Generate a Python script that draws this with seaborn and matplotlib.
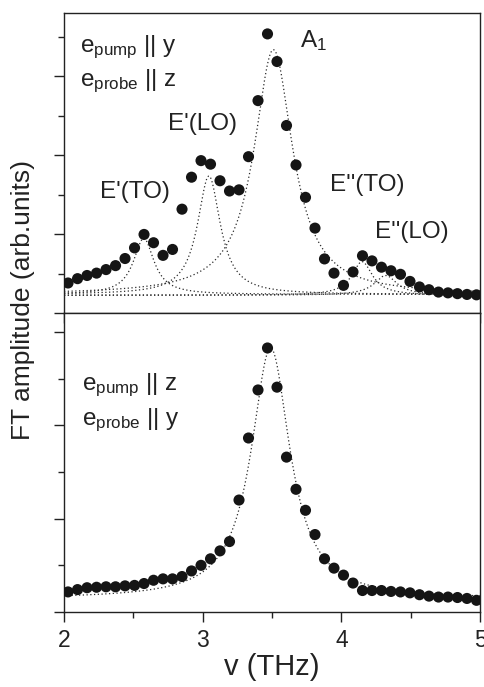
import numpy as np
import pandas as pd
import matplotlib
matplotlib.use("Agg")
import matplotlib.pyplot as plt
import seaborn as sns
from matplotlib.ticker import MultipleLocator, NullFormatter

# frequency grid (THz), same for both panels
freq_start = 2.029
freq_step = 0.0685
n_pts = 44
freq = [round(freq_start + freq_step * i, 4) for i in range(n_pts)]

# top panel: e_pump || y, e_probe || z
amp_top = [0.76, 0.87, 0.95, 1.01, 1.10, 1.20, 1.38, 1.65, 1.99, 1.78,
           1.46, 1.61, 2.63, 3.44, 3.86, 3.77, 3.35, 3.09, 3.12, 3.96,
           5.38, 7.07, 6.37, 4.75, 3.75, 2.93, 2.15, 1.37, 1.01, 0.70,
           1.04, 1.45, 1.32, 1.16, 1.07, 0.98, 0.80, 0.66, 0.59, 0.53,
           0.51, 0.49, 0.47, 0.46]

# bottom panel: e_pump || z, e_probe || y
amp_bot = [0.43, 0.48, 0.52, 0.53, 0.54, 0.54, 0.56, 0.57, 0.61, 0.68,
           0.71, 0.71, 0.76, 0.88, 1.00, 1.14, 1.31, 1.51, 2.40, 3.73,
           4.76, 5.66, 4.82, 3.32, 2.63, 2.18, 1.66, 1.14, 0.94, 0.79,
           0.62, 0.46, 0.46, 0.46, 0.44, 0.43, 0.41, 0.37, 0.34, 0.32,
           0.32, 0.31, 0.29, 0.25]

# lorentzian fit components
modes = ["E'(TO)", "E'(LO)", "A1", "E''(TO)", "E''(LO)"]
fit_center = [2.575, 3.045, 3.51, 4.15, 4.32]
fit_width = [0.09, 0.10, 0.17, 0.09, 0.10]
fit_height = [1.42, 3.00, 6.20, 0.85, 0.50]
fit_base = [0.47, 0.47, 0.47, 0.45, 0.45]

bot_center = [3.49]
bot_width = [0.17]
bot_height = [5.38]
bot_base = [0.28]


def lorentz(x, x0, w, a, y0):
    return y0 + a / (1 + ((x - x0) / w) ** 2)


sns.set_style("ticks")
plt.rcParams['font.family'] = ['Liberation Sans', 'DejaVu Sans']
plt.rcParams['mathtext.fontset'] = 'custom'
plt.rcParams['mathtext.rm'] = 'Liberation Sans'
plt.rcParams['mathtext.it'] = 'Liberation Sans'

fig = plt.figure(figsize=(4.85, 6.87), dpi=100)
ax1 = fig.add_axes([0.132, 0.5444, 0.8577, 0.4367])
ax2 = fig.add_axes([0.132, 0.1092, 0.8577, 0.4352])

xs = np.linspace(2, 5, 600)
dot_color = "#151515"
fit_style = dict(color="#2a2a2a", lw=0.9, linestyle=(0, (1, 2)))

df_top = pd.DataFrame({"freq": freq, "amp": amp_top})
df_bot = pd.DataFrame({"freq": freq, "amp": amp_bot})

for i in range(len(modes)):
    ax1.plot(xs, lorentz(xs, fit_center[i], fit_width[i], fit_height[i], fit_base[i]), **fit_style)
sns.scatterplot(data=df_top, x="freq", y="amp", ax=ax1, s=64, color=dot_color,
                edgecolor="none", zorder=3)

ax2.plot(xs, lorentz(xs, bot_center[0], bot_width[0], bot_height[0], bot_base[0]), **fit_style)
sns.scatterplot(data=df_bot, x="freq", y="amp", ax=ax2, s=64, color=dot_color,
                edgecolor="none", zorder=3)

for ax, ytop, yminor in [(ax1, 7.6, [1, 3, 5, 7]), (ax2, 6.41, [1, 3, 5])]:
    ax.set_xlim(2, 5)
    ax.set_ylim(0, ytop)
    ax.xaxis.set_major_locator(MultipleLocator(1))
    ax.xaxis.set_minor_locator(MultipleLocator(0.5))
    ax.set_yticks([0, 2, 4, 6])
    ax.set_yticks(yminor, minor=True)
    ax.yaxis.set_major_formatter(NullFormatter())
    ax.tick_params(which="major", direction="out", length=7, width=1.0, color="#222222")
    ax.tick_params(which="minor", direction="out", length=4.5, width=1.0, color="#222222")
    ax.tick_params(axis="x", labelsize=16.5, pad=5, colors="#222222")
    for sp in ax.spines.values():
        sp.set_linewidth(1.0)
        sp.set_color("#222222")
    ax.set_xlabel("")
    ax.set_ylabel("")

ax1.xaxis.set_major_formatter(NullFormatter())
ax2.set_xlabel("v (THz)", fontsize=21, labelpad=1, color="#222222")
fig.text(0.047, 0.563, "FT amplitude (arb.units)", rotation=90, fontsize=19,
         ha="center", va="center", color="#222222")

txt = dict(color="#222222")
ax1.text(2.115, 6.6, r"e$_{\rm pump}$ || y", fontsize=17.5, **txt)
ax1.text(2.115, 5.76, r"e$_{\rm probe}$ || z", fontsize=17.5, **txt)
ax1.text(3.70, 6.73, r"A$_{1}$", fontsize=17.5, **txt)
ax1.text(2.75, 4.64, "E'(LO)", fontsize=17.5, **txt)
ax1.text(2.26, 2.92, "E'(TO)", fontsize=17.5, **txt)
ax1.text(3.92, 3.08, "E''(TO)", fontsize=17.5, **txt)
ax1.text(4.24, 1.90, "E''(LO)", fontsize=17.5, **txt)

ax2.text(2.127, 4.75, r"e$_{\rm pump}$ || z", fontsize=17.5, **txt)
ax2.text(2.127, 4.0, r"e$_{\rm probe}$ || y", fontsize=17.5, **txt)

fig.savefig("out.png", dpi=100)
plt.close(fig)
